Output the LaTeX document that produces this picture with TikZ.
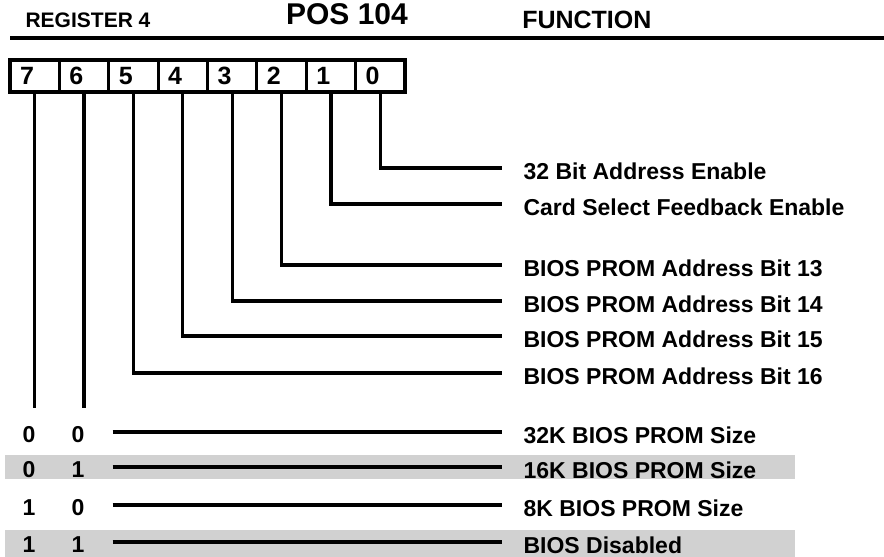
\documentclass[tikz,border=0pt]{standalone}
\usepackage{fontspec}
\setmainfont{Liberation Sans}

\begin{document}
\begin{tikzpicture}
  [x=0.5pt, y=-0.5pt, line width=1.6pt,
   every node/.style={font=\bfseries\fontsize{11.5}{13}\selectfont},
   cell/.style={draw, outer sep=0pt, minimum height=16pt, inner xsep=5pt,
                text width=14.69pt, align=left, font=\bfseries\fontsize{12.5}{14}\selectfont},
   func/.style={anchor=west, inner xsep=10pt},
   band/.style={fill=black!18}]
  \useasboundingbox (0,0) rectangle (884,557);
  % shaded rows
  \fill[band] (5,455) rectangle (795,479);
  \fill[band] (5,530) rectangle (795,557);
  % heading
  \node[font=\bfseries\fontsize{10.5}{12}\selectfont] (reg) at (88,20) {REGISTER 4};
  \node[font=\bfseries\fontsize{15}{17}\selectfont] (pos) at (347,14) {POS 104};
  \node[anchor=west, font=\bfseries\fontsize{12.5}{14}\selectfont] (fun) at (514,20) {FUNCTION};
  \draw (10,38) -- (884,38);
  % register bits
  \node[cell] (b7) at (34.69,76) {7};
  \node[cell] (b6) at (84.06,76) {6};
  \node[cell] (b5) at (133.44,76) {5};
  \node[cell] (b4) at (182.81,76) {4};
  \node[cell] (b3) at (232.19,76) {3};
  \node[cell] (b2) at (281.56,76) {2};
  \node[cell] (b1) at (330.94,76) {1};
  \node[cell] (b0) at (380.31,76) {0};
  % single bit functions
  \node[func] (f0) at (502,171) {32 Bit Address Enable};
  \node[func] (f1) at (502,207) {Card Select Feedback Enable};
  \node[func] (f2) at (502,268) {BIOS PROM Address Bit 13};
  \node[func] (f3) at (502,304) {BIOS PROM Address Bit 14};
  \node[func] (f4) at (502,339) {BIOS PROM Address Bit 15};
  \node[func] (f5) at (502,376) {BIOS PROM Address Bit 16};
  \draw (b0.south) |- ([yshift=1.5pt]f0.west);
  \draw (b1.south) |- ([yshift=1.5pt]f1.west);
  \draw (b2.south) |- ([yshift=1.5pt]f2.west);
  \draw (b3.south) |- ([yshift=1.5pt]f3.west);
  \draw (b4.south) |- ([yshift=1.5pt]f4.west);
  \draw (b5.south) |- ([yshift=1.5pt]f5.west);
  % PROM size bits
  \coordinate (e7) at (34.69,408);
  \coordinate (e6) at (84.06,408);
  \draw (b7.south) -- (e7);
  \draw (b6.south) -- (e6);
  \node (v1a) at (29,435) {0};
  \node (v1b) at (78,435) {0};
  \node (v2a) at (29,470) {0};
  \node (v2b) at (78,470) {1};
  \node (v3a) at (29,508) {1};
  \node (v3b) at (78,508) {0};
  \node (v4a) at (29,545) {1};
  \node (v4b) at (78,545) {1};
  \node[func] (s1) at (502,435) {32K BIOS PROM Size};
  \node[func] (s2) at (502,470) {16K BIOS PROM Size};
  \node[func] (s3) at (502,508) {8K BIOS PROM Size};
  \node[func] (s4) at (502,545) {BIOS Disabled};
  \draw ([xshift=10pt,yshift=1.5pt]v1b.east) -- ([yshift=1.5pt]s1.west);
  \draw ([xshift=10pt,yshift=1.5pt]v2b.east) -- ([yshift=1.5pt]s2.west);
  \draw ([xshift=10pt,yshift=1.5pt]v3b.east) -- ([yshift=1.5pt]s3.west);
  \draw ([xshift=10pt,yshift=1.5pt]v4b.east) -- ([yshift=1.5pt]s4.west);
\end{tikzpicture}
\end{document}
